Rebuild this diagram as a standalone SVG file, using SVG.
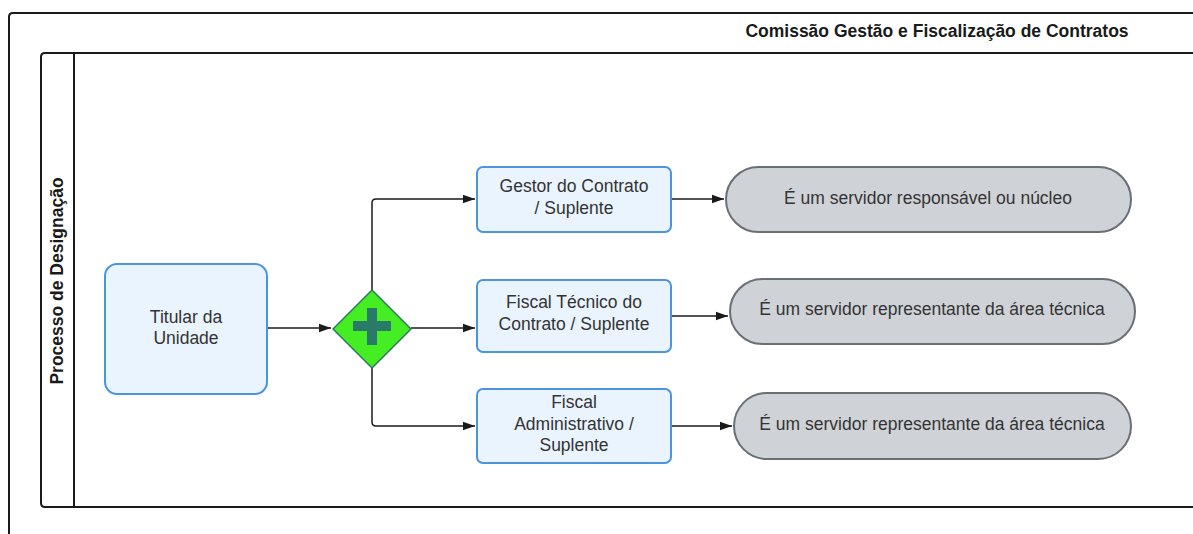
<svg xmlns="http://www.w3.org/2000/svg" width="1193" height="534" viewBox="0 0 1193 534">
<style>
.frame{fill:none;stroke:#1a1a1a;stroke-width:2}
.task{fill:#eaf4fe;stroke:#4a94e0;stroke-width:2}
.term{fill:#cfd3d7;stroke:#6a6f76;stroke-width:2}
.txt{font-family:"Liberation Sans",Arial,sans-serif;font-size:17.5px;fill:#333333;text-anchor:middle}
.hdr{font-family:"Liberation Sans",Arial,sans-serif;font-size:17.5px;font-weight:bold;fill:#1a1a1a;text-anchor:middle}
.conn{fill:none;stroke:#1a1a1a;stroke-width:1.5}
</style>
<defs>
<marker id="arr" viewBox="0 0 10 10" refX="10" refY="5" markerWidth="12" markerHeight="12" markerUnits="userSpaceOnUse" orient="auto">
<path d="M0,1.5 L10,5 L0,8.5 Z" fill="#1a1a1a"/>
</marker>
</defs>
<rect width="1193" height="534" fill="#ffffff"/>
<g id="pool">
<path class="frame" d="M9,540 L9,17 Q9,13 13,13 L1200,13"/>
<text class="hdr" x="937" y="37">Comissão Gestão e Fiscalização de Contratos</text>
<path class="frame" d="M1200,53 L45,53 Q41,53 41,57 L41,503 Q41,507 45,507 L1200,507"/>
<line class="frame" x1="74" y1="53" x2="74" y2="507"/>
<text class="hdr" transform="translate(63,281) rotate(-90)">Processo de Designação</text>
</g>
<g id="connectors">
<path class="conn" d="M267,328 L331,328" marker-end="url(#arr)"/>
<path class="conn" d="M372,290 L372,203 Q372,199 376,199 L475,199" marker-end="url(#arr)"/>
<path class="conn" d="M411,328 L475,328" marker-end="url(#arr)"/>
<path class="conn" d="M372,368 L372,422 Q372,426 376,426 L475,426" marker-end="url(#arr)"/>
<path class="conn" d="M671,199 L724,199" marker-end="url(#arr)"/>
<path class="conn" d="M671,316 L728,316" marker-end="url(#arr)"/>
<path class="conn" d="M671,426 L732,426" marker-end="url(#arr)"/>
</g>
<g id="titular">
<rect class="task" x="105" y="264" width="162" height="130" rx="12"/>
<text class="txt" x="186" y="323">Titular da</text>
<text class="txt" x="186" y="344">Unidade</text>
</g>
<g id="gateway">
<path d="M372,290 L411,329 L372,368 L333,329 Z" fill="#44ee22" stroke="#2a7a5e" stroke-width="1.5" stroke-linejoin="round"/>
<rect x="353" y="321" width="38" height="10" fill="#2a7a6a"/>
<rect x="367" y="308" width="10" height="37" fill="#2a7a6a"/>
</g>
<g id="gestor">
<rect class="task" x="477" y="167" width="194" height="65" rx="6"/>
<text class="txt" x="574" y="192">Gestor do Contrato</text>
<text class="txt" x="574" y="214">/ Suplente</text>
</g>
<g id="fiscal-tecnico">
<rect class="task" x="477" y="280" width="194" height="72" rx="6"/>
<text class="txt" x="574" y="308">Fiscal Técnico do</text>
<text class="txt" x="574" y="330">Contrato / Suplente</text>
</g>
<g id="fiscal-admin">
<rect class="task" x="477" y="389" width="194" height="74" rx="6"/>
<text class="txt" x="574" y="408">Fiscal</text>
<text class="txt" x="574" y="430">Administrativo /</text>
<text class="txt" x="574" y="451">Suplente</text>
</g>
<g id="term1">
<rect class="term" x="726" y="167" width="405" height="65" rx="32.5"/>
<text class="txt" x="928" y="204">É um servidor responsável ou núcleo</text>
</g>
<g id="term2">
<rect class="term" x="730" y="279" width="405" height="65" rx="32.5"/>
<text class="txt" x="932" y="315">É um servidor representante da área técnica</text>
</g>
<g id="term3">
<rect class="term" x="734" y="393" width="397" height="66" rx="33"/>
<text class="txt" x="932" y="430">É um servidor representante da área técnica</text>
</g>
</svg>
